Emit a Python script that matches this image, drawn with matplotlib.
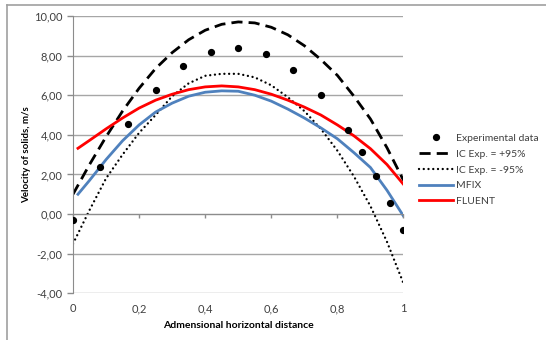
import matplotlib

matplotlib.use("Agg")
import matplotlib.pyplot as plt
from matplotlib.lines import Line2D
from matplotlib.ticker import FuncFormatter

plt.rcParams["font.family"] = ["Lato", "DejaVu Sans"]

# experimental points
exp_x = [0.0, 0.083, 0.167, 0.25, 0.333, 0.417, 0.5, 0.583, 0.667, 0.75,
         0.833, 0.875, 0.917, 0.958, 1.0]
exp_y = [-0.30, 2.39, 4.55, 6.26, 7.48, 8.17, 8.38, 8.09, 7.28, 6.03,
         4.23, 3.15, 1.93, 0.56, -0.81]

# confidence interval curves
ci_x = [0.0, 0.05, 0.1, 0.15, 0.2, 0.25, 0.3, 0.35, 0.4, 0.45, 0.5,
        0.55, 0.6, 0.65, 0.7, 0.75, 0.8, 0.85, 0.9, 0.95, 1.0]
ci_up = [1.0, 2.5, 3.9, 5.2, 6.35, 7.35, 8.15, 8.8, 9.28, 9.58, 9.7,
         9.65, 9.43, 9.05, 8.5, 7.8, 7.0, 5.95, 4.8, 3.35, 1.7]
ci_lo = [-1.5, 0.2, 1.8, 3.0, 4.1, 5.0, 5.95, 6.6, 6.98, 7.08, 7.08,
         6.9, 6.5, 5.9, 5.2, 4.3, 3.2, 1.9, 0.4, -1.4, -3.5]

# simulations
sim_x = [0.015, 0.05, 0.1, 0.15, 0.2, 0.25, 0.3, 0.35, 0.4, 0.45, 0.5,
         0.55, 0.6, 0.65, 0.7, 0.75, 0.8, 0.85, 0.9, 0.95, 1.0]
mfix = [1.0, 1.7, 2.75, 3.7, 4.5, 5.15, 5.6, 5.95, 6.15, 6.22, 6.2,
        6.0, 5.7, 5.3, 4.85, 4.35, 3.8, 3.1, 2.35, 1.2, -0.1]
fluent = [3.32, 3.72, 4.3, 4.85, 5.35, 5.75, 6.05, 6.28, 6.42, 6.47, 6.42,
          6.28, 6.05, 5.75, 5.4, 5.0, 4.5, 3.95, 3.3, 2.5, 1.5]

x_ticks = [0, 0.2, 0.4, 0.6, 0.8, 1]
x_tick_labels = ["0", "0,2", "0,4", "0,6", "0,8", "1"]
y_ticks = [-4, -2, 0, 2, 4, 6, 8, 10]

grey = "#8c8c8c"
text_col = "#404040"

fig = plt.figure(figsize=(5.46, 3.40), dpi=100)
ax = fig.add_axes([0.1337, 0.1374, 0.6053, 0.8156])

ax.plot(exp_x, exp_y, "o", color="black", markersize=4.2, label="Experimental data", zorder=5)
ax.plot(ci_x, ci_up, color="black", lw=2.0, dashes=(4, 2.2), label="IC Exp. = +95%")
ax.plot(ci_x, ci_lo, color="black", lw=1.7, dashes=(0.01, 2.0), dash_capstyle="round",
        label="IC Exp. = -95%")
ax.plot(sim_x, mfix, color="#4f81bd", lw=2.0, label="MFIX")
ax.plot(sim_x, fluent, color="#ff0000", lw=2.0, label="FLUENT")

ax.set_xlim(0, 1)
ax.set_ylim(-4, 10)
ax.set_yticks(y_ticks)
ax.yaxis.set_major_formatter(FuncFormatter(lambda v, _: f"{v:.2f}".replace(".", ",")))
ax.grid(axis="y", color="#a6a6a6", lw=1.0)
ax.set_axisbelow(True)

for side in ("top", "right"):
    ax.spines[side].set_visible(False)
ax.spines["left"].set_color(grey)
ax.spines["bottom"].set_position(("data", 0))
ax.spines["bottom"].set_color(grey)
ax.tick_params(axis="y", colors=grey, labelcolor=text_col, labelsize=8, length=4, width=1)
ax.set_xticks(x_ticks)
ax.tick_params(axis="x", colors=grey, length=3, width=1, labelbottom=False)

sec = ax.secondary_xaxis("bottom")
sec.set_xticks(x_ticks)
sec.set_xticklabels(x_tick_labels)
sec.spines["bottom"].set_visible(False)
sec.tick_params(axis="x", length=0, labelsize=8, labelcolor=text_col, pad=7)
sec.set_xlabel("Admensional horizontal distance", fontsize=7.5, fontweight="bold",
               color="black", labelpad=5)

ax.set_ylabel("Velocity of solids, m/s", fontsize=7, fontweight="bold", color="black",
              labelpad=2)

ax.legend(loc="center left", bbox_to_anchor=(1.02, 0.445), frameon=False, fontsize=7.5,
          handlelength=3.2, handletextpad=0.3, labelspacing=0.62, labelcolor=text_col)

# outer chart frame (top and left edges)
fig.add_artist(Line2D([0.013, 1.0], [0.985, 0.985], color="#a0a0a0", lw=1.2,
                      transform=fig.transFigure))
fig.add_artist(Line2D([0.013, 0.013], [0.0, 0.985], color="#a0a0a0", lw=1.2,
                      transform=fig.transFigure))

fig.savefig("out.png", dpi=100)
